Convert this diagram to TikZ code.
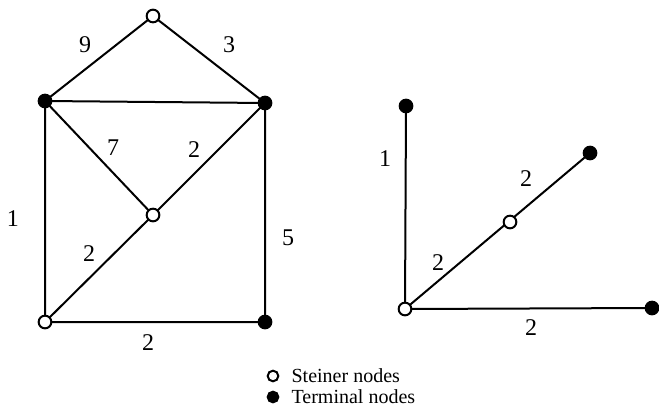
\documentclass[tikz,border=0pt]{standalone}
\usepackage{fontspec}
\setmainfont{Liberation Serif}
\usetikzlibrary{positioning}

\begin{document}
\begin{tikzpicture}[
    x=0.75pt, y=-0.75pt,
    steiner/.style={circle, draw, fill=white, line width=1.5pt, inner sep=0pt, minimum size=9.5pt},
    terminal/.style={circle, draw, fill=black, line width=1.5pt, inner sep=0pt, minimum size=9.5pt},
    edge/.style={line width=1.5pt},
    weight/.style={font=\fontsize{18}{21}\selectfont, inner sep=0pt},
    legend/.style={font=\fontsize{15}{18}\selectfont, inner sep=0pt, anchor=west}
]
\useasboundingbox (0,0) rectangle (659,410);

% left graph
\coordinate (lt) at (153,16);
\coordinate (ltl) at (45,101);
\coordinate (ltr) at (265,103);
\coordinate (lc) at (153,215);
\coordinate (lbl) at (45,322);
\coordinate (lbr) at (265,322);

\draw [edge] (ltl) -- (lt) -- (ltr) -- (ltl) -- (lbl) -- (lbr) -- (ltr);
\draw [edge] (ltl) -- (lc) -- (ltr);
\draw [edge] (lbl) -- (lc);

\node (A) [steiner] at (lt) {};
\node (B) [terminal] at (ltl) {};
\node (C) [terminal] at (ltr) {};
\node (D) [steiner] at (lc) {};
\node (E) [steiner] at (lbl) {};
\node (F) [terminal] at (lbr) {};

\node [weight] at (85,45) {9};
\node [weight] at (229,45) {3};
\node [weight] at (113,148) {7};
\node [weight] at (194,150) {2};
\node [weight] at (13,219) {1};
\node [weight] at (89,254) {2};
\node [weight] at (288,238) {5};
\node [weight] at (148,343) {2};

% right graph (Steiner tree)
\draw [edge] (406,106) -- (405,309) -- (652,308);
\draw [edge] (405,309) -- (590,153);

\node (G) [terminal] at (406,106) {};
\node (H) [terminal] at (590,153) {};
\node (I) [steiner] at (510,222) {};
\node (J) [steiner] at (405,309) {};
\node (K) [terminal] at (652,308) {};

\node [weight] at (385,159) {1};
\node [weight] at (526,179) {2};
\node [weight] at (438,263) {2};
\node [weight] at (531,328) {2};

% legend
\node (s) [steiner, minimum size=8pt] at (273,376) {};
\node (t) [terminal, minimum size=8pt] at (273,397) {};
\node [legend, right=9pt of s] {Steiner nodes};
\node [legend, right=9pt of t] {Terminal nodes};
\end{tikzpicture}
\end{document}
